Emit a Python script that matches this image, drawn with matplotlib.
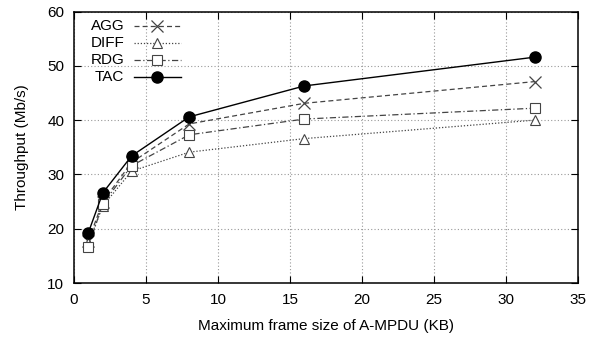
import matplotlib
matplotlib.use("Agg")
import matplotlib.pyplot as plt

plt.rcParams['font.family'] = ['Liberation Sans', 'DejaVu Sans']

# frame sizes (KB) and throughput per scheme (Mb/s)
frame_kb = [1, 2, 4, 8, 16, 32]
agg  = [17.8, 25.0, 32.2, 39.3, 43.1, 47.1]
diff = [17.3, 24.2, 30.6, 34.1, 36.6, 40.0]
rdg  = [16.7, 24.6, 31.6, 37.3, 40.2, 42.2]
tac  = [19.3, 26.6, 33.4, 40.6, 46.3, 51.6]
names = ['AGG', 'DIFF', 'RDG', 'TAC']

grey = '#444444'
styles = [
    dict(color=grey, lw=0.9, ls=(0, (4, 2.5)), marker='x', ms=8, mew=0.9),
    dict(color=grey, lw=0.9, ls=(0, (1, 1.5)), marker='^', ms=7.5, mfc='white', mew=0.8),
    dict(color=grey, lw=0.9, ls=(0, (5, 2, 1, 2)), marker='s', ms=7.5, mfc='white', mew=0.8),
    dict(color='black', lw=1.0, ls='-', marker='o', ms=8),
]

fig = plt.figure(figsize=(5.91, 3.37), dpi=100)
ax = fig.add_axes([0.1252, 0.1602, 0.853, 0.8056])

for ys, st in zip([agg, diff, rdg, tac], styles):
    ax.plot(frame_kb, ys, **st)

# gnuplot-like key: label on the left, sample line with marker on the right
for i, (name, st) in enumerate(zip(names, styles)):
    yk = 0.945 - i * 0.062
    ax.text(0.10, yk, name, transform=ax.transAxes, ha='right', va='center',
            fontsize=11)
    ax.plot([0.119, 0.212], [yk, yk], transform=ax.transAxes, clip_on=False,
            **{k: v for k, v in st.items() if k not in ('marker',)})
    ax.plot([0.1655], [yk], transform=ax.transAxes, clip_on=False, ls='none',
            **{k: v for k, v in st.items() if k not in ('ls', 'lw')})

ax.set_xlim(0, 35)
ax.set_ylim(10, 60)
ax.set_xticks(range(0, 36, 5))
ax.set_yticks(range(10, 61, 10))
ax.tick_params(direction='in', top=True, right=True, length=5, labelsize=11,
               pad=7)
ax.grid(True, color='#999999', ls=(0, (1, 2)), lw=0.8)
for s in ax.spines.values():
    s.set_linewidth(1.1)

ax.set_xlabel('Maximum frame size of A-MPDU (KB)', fontsize=11, labelpad=9)
ax.set_ylabel('Throughput (Mb/s)', fontsize=11, labelpad=13)

fig.savefig('out.png', dpi=100)
